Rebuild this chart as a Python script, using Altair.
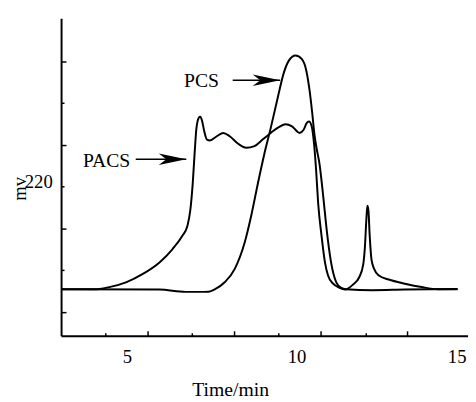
import altair as alt
import pandas as pd

# ---- data (time in min, signal in mV) ----
pacs_t = [3.06, 4.12, 4.51, 4.99, 5.47, 5.96, 6.34, 6.63, 6.78, 6.87, 6.94, 7.00, 7.05, 7.12,
          7.16, 7.21, 7.28, 7.36, 7.45, 7.65, 7.84, 8.03, 8.28, 8.52, 8.76, 9.00, 9.24, 9.48,
          9.68, 9.87, 10.09, 10.21, 10.30, 10.37, 10.45, 10.52, 10.58, 10.64, 10.74, 10.84,
          10.93, 11.08, 11.27, 11.43, 11.66, 11.85, 11.97, 12.02, 12.06, 12.09, 12.12, 12.16,
          12.21, 12.29, 12.43, 12.72, 13.20, 13.69, 14.17, 14.75]
pacs_v = [170.8, 170.8, 171.9, 174.2, 178.1, 183.6, 189.9, 196.2, 200.9, 208.7, 221.3, 236.9,
          247.9, 252.9, 253.4, 251.8, 246.4, 242.4, 242.0, 244.0, 245.6, 244.0, 240.4, 238.5,
          239.3, 242.4, 245.6, 248.4, 249.8, 248.7, 245.6, 247.1, 250.3, 251.1, 248.7, 240.1,
          227.5, 211.8, 196.2, 183.6, 177.3, 173.4, 171.4, 170.6, 172.9, 176.5, 182.8, 191.5,
          204.0, 210.7, 208.7, 196.2, 185.2, 180.5, 177.3, 175.4, 173.4, 171.8, 170.8, 170.8]

pcs_t = [3.06, 5.96, 6.73, 7.12, 7.41, 7.60, 7.89, 8.18, 8.47, 8.66, 8.86, 9.05, 9.24, 9.44,
         9.63, 9.77, 9.97, 10.16, 10.29, 10.38, 10.46, 10.53, 10.59, 10.68, 10.79, 10.89,
         11.02, 11.17, 11.32, 11.46, 12.24, 13.20, 14.75]
pcs_v = [170.8, 170.6, 169.5, 169.5, 169.6, 170.8, 174.2, 180.5, 193.0, 205.6, 221.3, 235.4,
         247.9, 262.0, 274.6, 280.1, 282.7, 280.9, 275.4, 266.7, 255.8, 244.8, 238.5, 230.7,
         215.0, 199.3, 183.6, 174.2, 171.4, 170.8, 170.3, 170.6, 170.9]

x_label_values = [5, 10, 15]
x_major_ticks = [5.61, 8.16, 10.71, 13.26]
x_minor_ticks = [4.35, 6.91, 9.46, 12.04]
y_label_values = [220]
y_major_ticks = [160, 200, 240, 280]
y_minor_ticks = [180, 220, 260]

annot_text = ["PACS", "PCS"]
annot_t = [4.40, 7.20]
annot_v = [232.2, 270.6]
arrow_t0 = [5.26, 8.12]
arrow_t1 = [6.75, 9.52]
arrow_v = [233.0, 270.8]

# ---- layout ----
W, H = 414, 323
serif = "Liberation Serif"
xscale = alt.Scale(domain=[3.058, 15.058], nice=False, zero=False)
yscale = alt.Scale(domain=[148.5, 300.5], nice=False, zero=False)

rows = [{"t": t, "v": v, "series": "PACS"} for t, v in zip(pacs_t, pacs_v)] + \
       [{"t": t, "v": v, "series": "PCS"} for t, v in zip(pcs_t, pcs_v)]
df = pd.DataFrame(rows)

ann = pd.DataFrame({"text": annot_text, "t": annot_t, "v": annot_v})
arr = pd.DataFrame({"t0": arrow_t0, "t1": arrow_t1, "v": arrow_v})


def cond_size(major):
    test = "indexof([" + ",".join(str(m) for m in major) + "], datum.value) >= 0"
    return {"condition": {"test": test, "value": 5}, "value": 3}


label_x = alt.Axis(values=x_label_values, orient="bottom", ticks=False, grid=False,
                   domain=True, domainColor="black", domainWidth=2,
                   labelFont=serif, labelFontSize=19, labelColor="black", labelPadding=12,
                   format="d", labelBound=False, labelFlush=5, labelFlushOffset=0,
                   title="Time/min", titleFont=serif, titleFontSize=20,
                   titleFontWeight="normal", titleColor="black",
                   titleX=172, titleY=61, titleBaseline="alphabetic")
label_y = alt.Axis(values=y_label_values, orient="left", ticks=False, grid=False,
                   domain=True, domainColor="black", domainWidth=2,
                   labelFont=serif, labelFontSize=19, labelColor="black", labelPadding=9,
                   labelOffset=-5, format="d",
                   title="mv", titleFont=serif, titleFontSize=19, titleFontWeight="normal",
                   titleColor="black", titleAngle=270, titleX=-36, titleY=173,
                   titleBaseline="alphabetic", titleAlign="center")
tick_x = alt.Axis(values=x_major_ticks + x_minor_ticks, orient="top", offset=-H,
                  labels=False, domain=False, grid=False, title=None,
                  tickColor="black", tickWidth=1.5, tickSize=cond_size(x_major_ticks))
tick_y = alt.Axis(values=y_major_ticks + y_minor_ticks, orient="right", offset=-W,
                  labels=False, domain=False, grid=False, title=None,
                  tickColor="black", tickWidth=1.5, tickSize=cond_size(y_major_ticks))

lines = alt.Chart(df).mark_line(interpolate="monotone", color="black", strokeWidth=2).encode(
    x=alt.X("t:Q", scale=xscale, axis=label_x),
    y=alt.Y("v:Q", scale=yscale, axis=label_y),
    detail="series:N",
)

ticks_layer = alt.Chart(df).mark_line(opacity=0).encode(
    x=alt.X("t:Q", scale=xscale, axis=tick_x),
    y=alt.Y("v:Q", scale=yscale, axis=tick_y),
    detail="series:N",
)

texts = alt.Chart(ann).mark_text(font=serif, fontSize=20, align="center",
                                 baseline="middle", color="black").encode(
    x=alt.X("t:Q", scale=xscale, axis=None),
    y=alt.Y("v:Q", scale=yscale, axis=None),
    text="text:N",
)

shafts = alt.Chart(arr).mark_rule(color="black", strokeWidth=1.5).encode(
    x=alt.X("t0:Q", scale=xscale, axis=None),
    x2="t1:Q",
    y=alt.Y("v:Q", scale=yscale, axis=None),
)

heads = alt.Chart(arr).mark_point(
    shape="M0,0 L-2,-0.42 L-1.45,0 L-2,0.42 Z", filled=True, color="black",
    opacity=1, size=784).encode(
    x=alt.X("t1:Q", scale=xscale, axis=None),
    y=alt.Y("v:Q", scale=yscale, axis=None),
)

chart = alt.layer(lines, ticks_layer, texts, shafts, heads).resolve_scale(
    x="shared", y="shared").resolve_axis(x="independent", y="independent").properties(
    width=W, height=H,
    autosize=alt.AutoSizeParams(type="none"),
    padding={"left": 54, "top": 7, "right": 0, "bottom": 64},
    background="white",
).configure_view(stroke="transparent")

chart.save("out.html", embed_options={"renderer": "svg", "actions": False})
